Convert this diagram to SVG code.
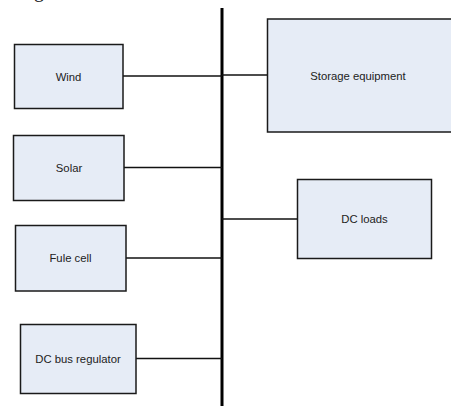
<svg xmlns="http://www.w3.org/2000/svg" width="451" height="406" viewBox="0 0 451 406">
<style>
.box{fill:#E6ECF6;stroke:#1a1a1a;stroke-width:1.5}
.lbl{font-family:"Liberation Sans",Arial,sans-serif;font-size:11.3px;fill:#222;text-anchor:middle;dominant-baseline:central}
.wire{stroke:#111;stroke-width:1.3;fill:none}
.bus{stroke:#000;stroke-width:3;fill:none}
</style>
<rect width="451" height="406" fill="#fff"/>
<text x="39" y="-3" font-family="Liberation Serif,serif" font-size="20" fill="#222" text-anchor="middle">g</text>
<g id="connectors">
<line class="bus" x1="222" y1="8" x2="222" y2="406"/>
<line class="wire" x1="123" y1="76" x2="222" y2="76"/>
<line class="wire" x1="124" y1="167.5" x2="222" y2="167.5"/>
<line class="wire" x1="126" y1="258" x2="222" y2="258"/>
<line class="wire" x1="136" y1="358.5" x2="222" y2="358.5"/>
<line class="wire" x1="222" y1="75" x2="267" y2="75"/>
<line class="wire" x1="222" y1="219" x2="297" y2="219"/>
</g>
<g id="wind"><rect class="box" x="14.5" y="44.5" width="108.5" height="64"/><text class="lbl" x="68.5" y="76.5">Wind</text></g>
<g id="solar"><rect class="box" x="13.5" y="135.5" width="110.5" height="65"/><text class="lbl" x="69" y="167.5">Solar</text></g>
<g id="fuelcell"><rect class="box" x="15.5" y="225.5" width="110.5" height="65.5"/><text class="lbl" x="70.5" y="258">Fule cell</text></g>
<g id="regulator"><rect class="box" x="20.5" y="324.5" width="115.5" height="69"/><text class="lbl" x="78" y="358.5">DC bus regulator</text></g>
<g id="storage"><rect class="box" x="267.5" y="19" width="190" height="113"/><text class="lbl" x="358" y="75.5">Storage equipment</text></g>
<g id="dcloads"><rect class="box" x="297.5" y="179.5" width="134" height="79"/><text class="lbl" x="364.5" y="219">DC loads</text></g>
</svg>
